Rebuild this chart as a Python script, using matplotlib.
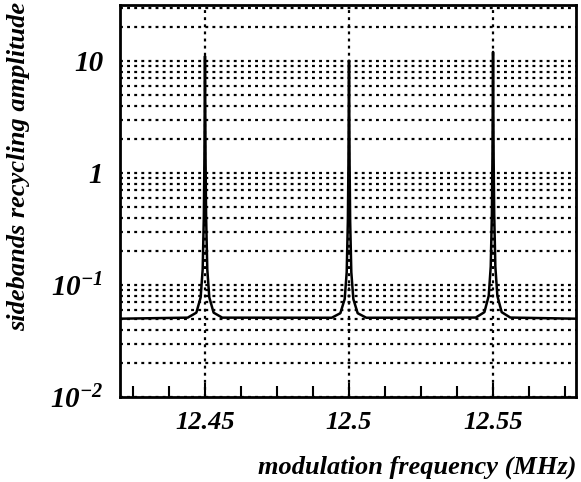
import numpy as np
import matplotlib
matplotlib.use("Agg")
import matplotlib.pyplot as plt
from matplotlib.ticker import FixedLocator, FixedFormatter, LogLocator, NullFormatter

plt.rcParams['mathtext.fontset'] = 'custom'
plt.rcParams['mathtext.rm'] = 'Liberation Serif:bold:italic'
plt.rcParams['mathtext.it'] = 'Liberation Serif:bold:italic'
plt.rcParams['mathtext.bf'] = 'Liberation Serif:bold:italic'

# --- data ---
peak_centers = [12.45, 12.50, 12.55]          # MHz
peak_heights = [11.0, 10.0, 12.0]             # amplitude at resonance
baseline = 0.05                               # off-resonance amplitude
# resonance profile: offsets from centre (MHz) and amplitude fraction above baseline
profile_offsets = [-0.006, -0.003, -0.0015, -0.0008, -0.0004, -0.0002, -0.0001,
                   -0.00005, 0.0, 0.00005, 0.0001, 0.0002, 0.0004, 0.0008,
                   0.0015, 0.003, 0.006]
profile_fraction = [0.0001, 0.0006, 0.0025, 0.008, 0.032, 0.115, 0.34,
                    0.67, 1.0, 0.67, 0.34, 0.115, 0.032, 0.008,
                    0.0025, 0.0006, 0.0001]
range_edges = [12.4205, 12.5788]

xticks = [12.45, 12.5, 12.55]
xticklabels = ["12.45", "12.5", "12.55"]
yticks = [0.01, 0.1, 1, 10]
yticklabels = [r"$10^{-2}$", r"$10^{-1}$", "1", "10"]

# assemble curve
freqs = [range_edges[0]]
amps = [baseline]
for c, h in zip(peak_centers, peak_heights):
    for o, fr in zip(profile_offsets, profile_fraction):
        freqs.append(c + o)
        amps.append(baseline + h * fr)
freqs.append(range_edges[1])
amps.append(baseline)

fig = plt.figure(figsize=(5.81, 4.82), dpi=100)
ax = fig.add_axes([120/581, 1 - 397/482, 456/581, 392/482])

ax.set_yscale('log')
ax.set_xlim(range_edges)
ax.set_ylim(0.01, 31.6)

ax.plot(freqs, amps, color='black', lw=1.8, zorder=3)

ax.yaxis.set_major_locator(FixedLocator(yticks))
ax.yaxis.set_major_formatter(FixedFormatter(yticklabels))
ax.yaxis.set_minor_locator(LogLocator(base=10, subs=np.arange(2, 10)))
ax.yaxis.set_minor_formatter(NullFormatter())
ax.xaxis.set_major_locator(FixedLocator(xticks))
ax.xaxis.set_major_formatter(FixedFormatter(xticklabels))
ax.xaxis.set_minor_locator(FixedLocator(np.arange(12.4125, 12.58, 0.0125)))

gkw = dict(color='black', lw=1.6, linestyle=(0, (1.3, 1.9)))
ax.grid(True, which='both', axis='y', **gkw)
ax.grid(True, which='major', axis='x', **gkw)

ax.tick_params(axis='y', which='both', length=0, pad=12)
ax.tick_params(axis='x', which='major', direction='in', length=10, width=1.5, pad=10)
ax.tick_params(axis='x', which='minor', direction='in', length=8, width=1.5)

for lab in ax.get_xticklabels():
    lab.set_fontfamily('Liberation Serif')
    lab.set_fontweight('bold')
    lab.set_fontstyle('italic')
    lab.set_fontsize(19)
for lab in ax.get_yticklabels():
    lab.set_fontfamily('Liberation Serif')
    lab.set_fontweight('bold')
    lab.set_fontstyle('italic')
    lab.set_fontsize(21)

for s in ax.spines.values():
    s.set_linewidth(2)

ax.set_xlabel("modulation frequency (MHz)", family='Liberation Serif', weight='bold',
              style='italic', fontsize=19)
ax.xaxis.set_label_coords(1.0, -0.15)
ax.xaxis.label.set_ha('right')
ax.set_ylabel("sidebands recycling amplitude", family='Liberation Serif', weight='bold',
              style='italic', fontsize=19)
ax.yaxis.set_label_coords(-0.197, 0.587)

fig.savefig("out.png", dpi=100)
